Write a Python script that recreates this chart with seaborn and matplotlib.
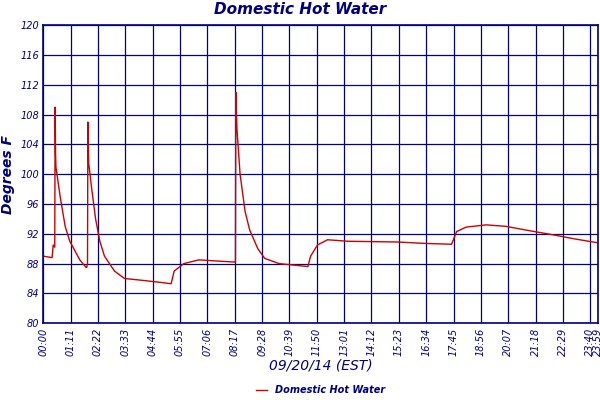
import matplotlib
matplotlib.use("Agg")
import matplotlib.pyplot as plt
import seaborn as sns
import pandas as pd

minutes = [0, 23, 26, 30, 31, 32, 33, 44, 57, 69, 95, 111, 113, 115, 116, 117, 118, 126, 136, 147, 159, 185,
           211, 249, 301, 332, 340, 365, 404, 498, 499, 500, 501, 503, 511, 524, 536, 557, 575, 612,
           687, 694, 712, 738, 790, 918, 995, 1060, 1073, 1098, 1150, 1201, 1253, 1330, 1381, 1439]
temps = [89.0, 88.8, 90.5, 90.2, 109.0, 103.0, 101.0, 97.0, 93.0, 91.0, 88.5, 87.5, 87.5, 88.0, 107.0, 104.0, 101.5, 98.0, 94.0, 91.0, 89.0, 87.0,
         86.0, 85.8, 85.5, 85.3, 87.0, 88.0, 88.5, 88.2, 88.2, 111.0, 109.0, 106.0, 100.0, 95.0, 92.5, 90.0, 88.7, 88.0,
         87.6, 89.0, 90.5, 91.2, 91.0, 90.9, 90.7, 90.6, 92.3, 92.9, 93.2, 93.0, 92.5, 91.8, 91.3, 90.8]
series_name = "Domestic Hot Water"
tick_minutes = [i * 71 for i in range(21)] + [1439]
y_ticks = list(range(80, 121, 4))

navy = "#000080"
df = pd.DataFrame({"min": minutes, "temp": temps, "series": series_name})

fig = plt.figure(figsize=(6, 4), dpi=100)
ax = fig.add_axes([0.072, 0.192, 0.924, 0.745])
sns.lineplot(data=df, x="min", y="temp", hue="series", palette=["#cc0000"], linewidth=1, ax=ax)
ax.set_xlim(0, 1439)
ax.set_ylim(80, 120)
ax.set_xticks(tick_minutes)
ax.set_xticklabels([f"{m//60:02d}:{m%60:02d}" for m in tick_minutes], rotation=90,
                   fontsize=7, color=navy, style="italic")
ax.set_yticks(y_ticks)
ax.set_yticklabels([str(v) for v in y_ticks], fontsize=7, color=navy, style="italic")
ax.tick_params(length=0, pad=3)
ax.grid(True, color=navy, linewidth=0.9)
ax.set_axisbelow(True)
for s in ax.spines.values():
    s.set_color(navy)
    s.set_linewidth(1.2)
ax.set_xlabel("09/20/14 (EST)", fontsize=10, color=navy, style="italic", labelpad=2)
ax.set_ylabel("Degrees F", fontsize=10, color=navy, style="italic", fontweight="bold")
fig.suptitle("Domestic Hot Water", y=0.995, fontsize=11, color=navy, style="italic", fontweight="bold")
ax.legend(loc="center", bbox_to_anchor=(0.5, -0.225), frameon=False,
          labelcolor=navy, prop={"style": "italic", "weight": "bold", "size": 7}, handlelength=1.2)
fig.savefig("out.png", dpi=100, facecolor="white")
